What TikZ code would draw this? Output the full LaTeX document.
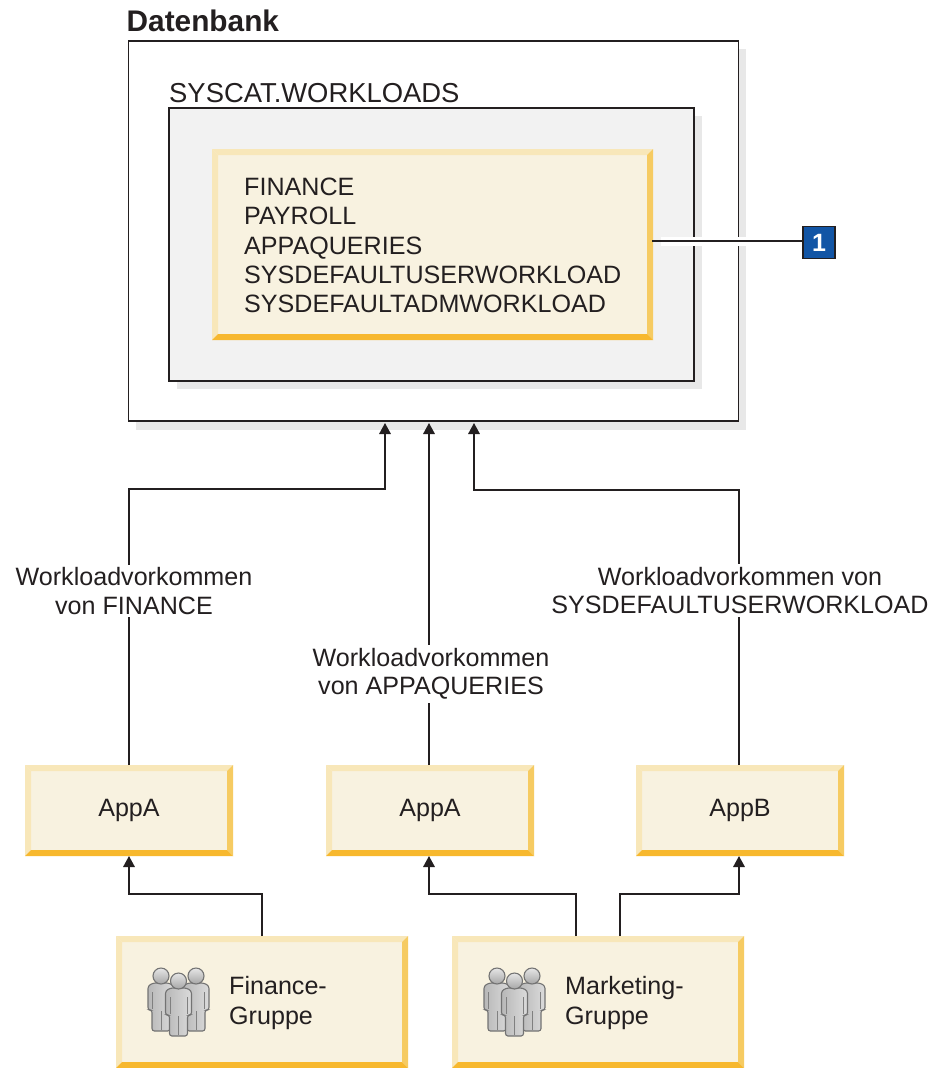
\documentclass[tikz,border=0pt]{standalone}
\usepackage{fontspec}
\setmainfont{Liberation Sans}
\usetikzlibrary{arrows.meta,calc}
\definecolor{ink}{HTML}{231F20}
\definecolor{shadowgray}{HTML}{E8E8E8}
\definecolor{panelgray}{HTML}{F2F2F2}
\definecolor{cream}{HTML}{F8F2E0}
\definecolor{bevellight}{HTML}{F8E7B9}
\definecolor{bevelright}{HTML}{F6CB62}
\definecolor{bevelbottom}{HTML}{F7B82E}
\definecolor{badgeblue}{HTML}{1255A5}
\tikzset{
  txt/.style={font=\fontsize{25.1}{29.4}\selectfont,text=ink,inner sep=0pt},
  shadowbox/.style={fill=shadowgray,draw=none,inner sep=0pt,outer sep=0pt,anchor=north west},
  framebox/.style={draw=ink,line width=1.7pt,inner sep=0pt,outer sep=0pt,anchor=north west},
  bevelbox/.style={inner sep=0pt,outer sep=0pt,anchor=north west,fill=cream,font=\fontsize{25.1}{29.4}\selectfont,text=ink,align=center,
    path picture={
      \coordinate (NW) at (path picture bounding box.north west);
      \coordinate (NE) at (path picture bounding box.north east);
      \coordinate (SE) at (path picture bounding box.south east);
      \coordinate (SW) at (path picture bounding box.south west);
      \coordinate (nw) at ($(NW)+(6,6)$);
      \coordinate (ne) at ($(NE)+(-6,6)$);
      \coordinate (se) at ($(SE)+(-6,-6)$);
      \coordinate (sw) at ($(SW)+(6,-6)$);
      \fill[bevellight] (NW)--(NE)--(ne)--(nw)--cycle;
      \fill[bevellight] (NW)--(SW)--(sw)--(nw)--cycle;
      \fill[bevelright] (NE)--(SE)--(se)--(ne)--cycle;
      \fill[bevelbottom] (SW)--(SE)--(se)--(sw)--cycle;
    }},
  conn/.style={draw=ink,line width=1.7pt,-{Triangle[width=11.5pt,length=11pt]}},
  lab/.style={txt,fill=white,align=center,font=\fontsize{25.1}{28.5}\selectfont,inner sep=3pt},
  person/.pic={
    \draw[draw=black!55,line width=1.1pt,left color=black!28,right color=black!14,rounded corners=2.5pt]
      (-8,0)--(8,0)--(13,3)--(13,27)--(9,27)--(9,48)--(-9,48)--(-9,27)--(-13,27)--(-13,3)--cycle;
    \draw[black!50,line width=.7pt] (-8.5,9)--(-8.5,26) (8.5,9)--(8.5,26) (0,28)--(0,47);
    \draw[draw=black!55,line width=1.1pt,top color=black!10,bottom color=black!35] (0,-7) circle (8);
  },
  people/.pic={
    \pic at (-17.5,0) {person};
    \pic at (17.5,0) {person};
    \pic at (0,5) {person};
  }
}
\begin{document}
\begin{tikzpicture}[x=1pt,y=-1pt]
\useasboundingbox (0,0) rectangle (932,1068);
\fill[white] (0,0) rectangle (932,1068);

% database frame
\node[shadowbox,minimum width=610pt,minimum height=381pt] (dbshadow) at (136,49) {};
\node[framebox,fill=white,minimum width=610pt,minimum height=380pt] (db) at (128.5,41) {};
\node[shadowbox,minimum width=525pt,minimum height=273pt] (catshadow) at (177,116) {};
\node[framebox,fill=panelgray,minimum width=525pt,minimum height=273pt] (cat) at (169,108) {};
\node[bevelbox,minimum width=441pt,minimum height=191pt] (wl) at (212,149) {};
\node[txt,anchor=base west] (title) at (126.5,31) {\fontsize{29.8}{32}\selectfont\bfseries Datenbank};
\node[txt,anchor=base west] (cattitle) at (169,102.5) {\fontsize{27.4}{30}\selectfont SYSCAT.WORKLOADS};
\node[txt,anchor=west,align=left] (wllist) at (244,245.5) {FINANCE\\PAYROLL\\APPAQUERIES\\SYSDEFAULTUSERWORKLOAD\\SYSDEFAULTADMWORKLOAD};

% callout
\fill[white] (661,237) rectangle (746,246);
\node[draw=ink,line width=1.5pt,fill=badgeblue,text=white,inner sep=0pt,outer sep=0pt,minimum size=32pt,font=\fontsize{25}{27}\selectfont\bfseries] (badge) at (819,242.5) {1};
\coordinate (wlout) at (652,241);
\draw[ink,line width=1.7pt] (wlout) -- (wlout -| badge.west);

% applications
\node[bevelbox,minimum width=208pt,minimum height=91pt] (app1) at (25,765) {AppA};
\node[bevelbox,minimum width=208pt,minimum height=91pt] (app2) at (326,765) {AppA};
\node[bevelbox,minimum width=208pt,minimum height=91pt] (app3) at (636,765) {AppB};

% groups
\node[bevelbox,minimum width=292pt,minimum height=132pt] (fin) at (116,936) {};
\node[bevelbox,minimum width=292pt,minimum height=132pt] (mkt) at (452,936) {};
\pic at (178.5,983) {people};
\pic at (514.5,983) {people};
\node[txt,anchor=west,align=left] (fintxt) at (229,1003) {Finance-\\Gruppe};
\node[txt,anchor=west,align=left] (mkttxt) at (565,1003) {Marketing-\\Gruppe};

% connectors into the database
\coordinate (in1) at (385,423);
\coordinate (in2) at (429,423);
\coordinate (in3) at (474,423);
\coordinate (a3top) at (739,765);
\draw[conn] (app1.north) |- (385,489) -- (in1);
\draw[conn] (app2.north -| in2) -- (in2);
\draw[conn] (a3top) |- (474,490) -- (in3);

% connectors from groups
\coordinate (f1) at (262,936);
\coordinate (m1) at (576,936);
\coordinate (m2) at (620,936);
\draw[conn] (f1) |- (129,894) -- (app1.south);
\draw[conn] (m1) |- (429,894) -- (app2.south -| 429,0);
\draw[conn] (m2) |- (739,894) -- (app3.south -| 739,0);

% connector labels
\node[lab] (l1) at (134,591) {Workloadvorkommen\\von FINANCE};
\node[lab] (l2) at (431,674) {Workloadvorkommen\\von APPAQUERIES};
\node[lab] (l3) at (740,590.5) {Workloadvorkommen von\\SYSDEFAULTUSERWORKLOAD};
\end{tikzpicture}
\end{document}
